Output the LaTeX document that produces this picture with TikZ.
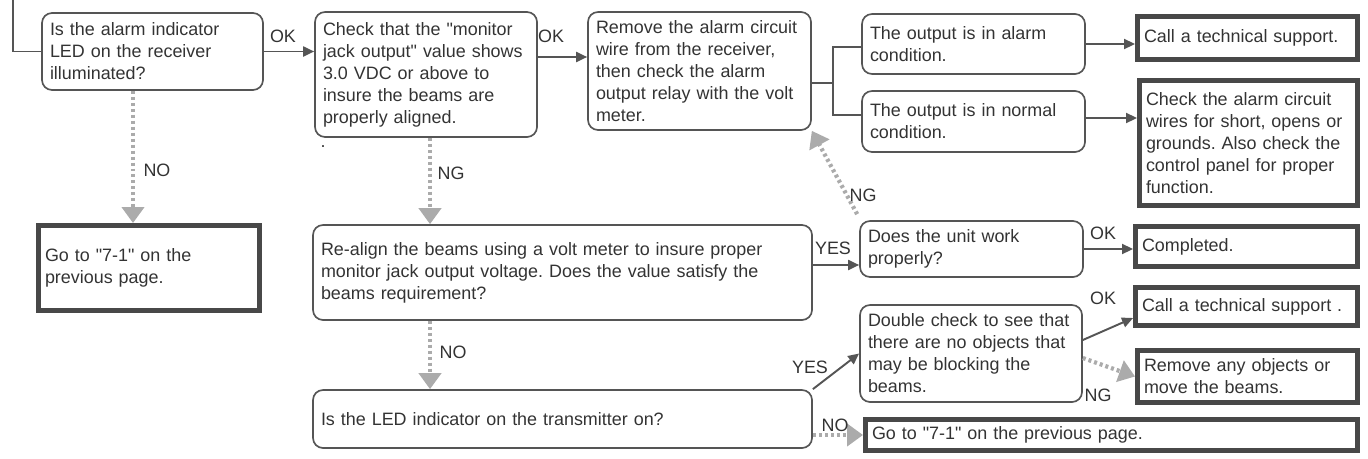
\documentclass[tikz,border=0pt]{standalone}
\usepackage{fontspec}
\setmainfont{Liberation Sans}[Ligatures=TeXOff]
\usetikzlibrary{arrows.meta}
\definecolor{txtgray}{HTML}{333333}
\definecolor{linegray}{HTML}{555555}
\definecolor{dotgray}{HTML}{ABABAB}
\frenchspacing
\tikzset{
  every node/.style={font=\fontsize{10.2}{12.5}\selectfont, text=txtgray},
  qbox/.style={draw=linegray, line width=0.95pt, rounded corners=0.2cm, align=left, inner xsep=0.16cm, inner ysep=0pt},
  endbox/.style={draw=linegray!85!black, line width=2.8pt, align=left, inner xsep=0.13cm, inner ysep=0pt},
  wire/.style={draw=linegray, line width=1.1pt},
  conn/.style={wire, -{Triangle[length=0.22cm,width=0.2cm]}},
  dotconn/.style={draw=dotgray, line width=2.4pt, dash pattern=on 1.7pt off 1.7pt, -{Triangle[length=0.32cm,width=0.44cm]}},
  lbl/.style={inner sep=0pt}
}
\begin{document}
\begin{tikzpicture}
    \useasboundingbox (0,0) rectangle (27.36,-9.18);

    % 1. first row: questions
    \node[qbox, minimum height=1.54cm, text width=4.1cm] (alarm) at (3.05,-1.03)
        {Is the alarm indicator\\LED on the receiver\\illuminated?};
    \node[qbox, minimum height=2.50cm, text width=4.12cm] (monitor) at (8.52,-1.49)
        {Check that the "monitor\\jack output" value shows\\3.0 VDC or above to\\insure the beams are\\properly aligned.};
    \node[qbox, minimum height=2.36cm, text width=4.14cm] (remove) at (13.99,-1.42)
        {Remove the alarm circuit\\wire from the receiver,\\then check the alarm\\output relay with the volt\\meter.};
    \node[qbox, minimum height=1.20cm, text width=4.14cm] (outalarm) at (19.47,-0.88)
        {The output is in alarm\\condition.};
    \node[qbox, minimum height=1.22cm, text width=4.14cm] (outnormal) at (19.47,-2.43)
        {The output is in normal\\condition.};
    \node[lbl] (dot) at (6.46,-2.94) {.};

    % 2. end boxes (thick frame)
    \node[endbox, minimum height=0.86cm, text width=4.14cm] (support) at (24.95,-0.76)
        {Call a technical support.};
    \node[endbox, minimum height=2.50cm, text width=4.10cm] (wires) at (24.97,-2.86)
        {Check the alarm circuit\\wires for short, opens or\\grounds. Also check the\\control panel for proper\\function.};
    \node[endbox, minimum height=1.70cm, text width=4.16cm] (prevA) at (2.98,-5.36)
        {Go to "7-1" on the\\previous page.};
    \node[endbox, minimum height=0.80cm, text width=4.18cm] (done) at (24.93,-4.93)
        {Completed.};
    \node[endbox, minimum height=0.76cm, text width=4.18cm] (supportB) at (24.93,-6.13)
        {Call a technical support .};
    \node[endbox, minimum height=1.04cm, text width=4.14cm] (objects) at (24.95,-7.53)
        {Remove any objects or\\move the beams.};
    \node[endbox, minimum height=0.62cm, text width=9.58cm] (prevB) at (22.23,-8.70)
        {Go to "7-1" on the previous page.};

    % 3. lower rows
    \node[qbox, minimum height=1.90cm, text width=9.66cm] (realign) at (11.25,-5.45)
        {Re-align the beams using a volt meter to insure proper\\monitor jack output voltage. Does the value satisfy the\\beams requirement?};
    \node[qbox, minimum height=1.16cm, text width=9.66cm] (transmit) at (11.25,-8.38)
        {Is the LED indicator on the transmitter on?};
    \node[qbox, minimum height=1.12cm, text width=4.14cm] (unit) at (19.43,-4.98)
        {Does the unit work\\properly?};
    \node[qbox, minimum height=1.94cm, text width=4.12cm] (double) at (19.42,-7.07)
        {Double check to see that\\there are no objects that\\may be blocking the\\beams.};

    % 4. solid connectors
    \coordinate (start) at (0.26,0);
    \coordinate (fork) at (16.66,-1.66);
    \draw[wire] (start) |- (alarm.west);
    \draw[conn] (alarm.east) -- (alarm.east -| monitor.west);
    \draw[conn] (monitor.east |- 0,-1.14) -- (remove.west |- 0,-1.14);
    \draw[wire] (remove.east |- fork) -- (fork);
    \draw[wire] ([yshift=-0.06cm]outalarm.west) -| (fork) |- ([yshift=0.13cm]outnormal.west);
    \draw[conn] (outalarm.east) -- (outalarm.east -| support.west);
    \draw[conn] (outnormal.east |- 0,-2.36) -- (wires.west |- 0,-2.36);
    \draw[conn] (realign.east |- 0,-5.30) -- (unit.west |- 0,-5.30);
    \draw[conn] (unit.east) -- (unit.east -| done.west);
    \draw[conn] (transmit.north east) -- (double.west);
    \draw[conn] (double.east |- 0,-6.80) -- (supportB.west |- 0,-6.36);

    % 5. dotted connectors
    \draw[dotconn] (alarm.south -| 2.66,0) -- (prevA.north -| 2.66,0);
    \draw[dotconn] (monitor.south -| 8.60,0) -- (realign.north -| 8.60,0);
    \draw[dotconn] (realign.south -| 8.60,0) -- (transmit.north -| 8.60,0);
    \draw[dotconn] ([shift={(-0.04cm,0.12cm)}]unit.north west) -- (remove.south east);
    \draw[dotconn] (transmit.east |- prevB.west) -- (prevB.west);
    \draw[dotconn] (double.east |- 0,-7.16) -- (objects.west);

    % 6. labels
    \node[lbl] (okA) at (5.66,-0.72) {OK};
    \node[lbl] (okB) at (11.02,-0.72) {OK};
    \node[lbl] (noA) at (3.14,-3.40) {NO};
    \node[lbl] (ngA) at (9.02,-3.46) {NG};
    \node[lbl] (noB) at (9.06,-7.04) {NO};
    \node[lbl] (yesA) at (16.66,-4.96) {YES};
    \node[lbl] (ngB) at (17.26,-3.90) {NG};
    \node[lbl] (okC) at (22.06,-4.66) {OK};
    \node[lbl] (yesB) at (16.20,-7.34) {YES};
    \node[lbl] (noC) at (16.70,-8.50) {NO};
    \node[lbl] (okD) at (22.06,-5.96) {OK};
    \node[lbl] (ngC) at (21.96,-7.90) {NG};

\end{tikzpicture}
\end{document}
